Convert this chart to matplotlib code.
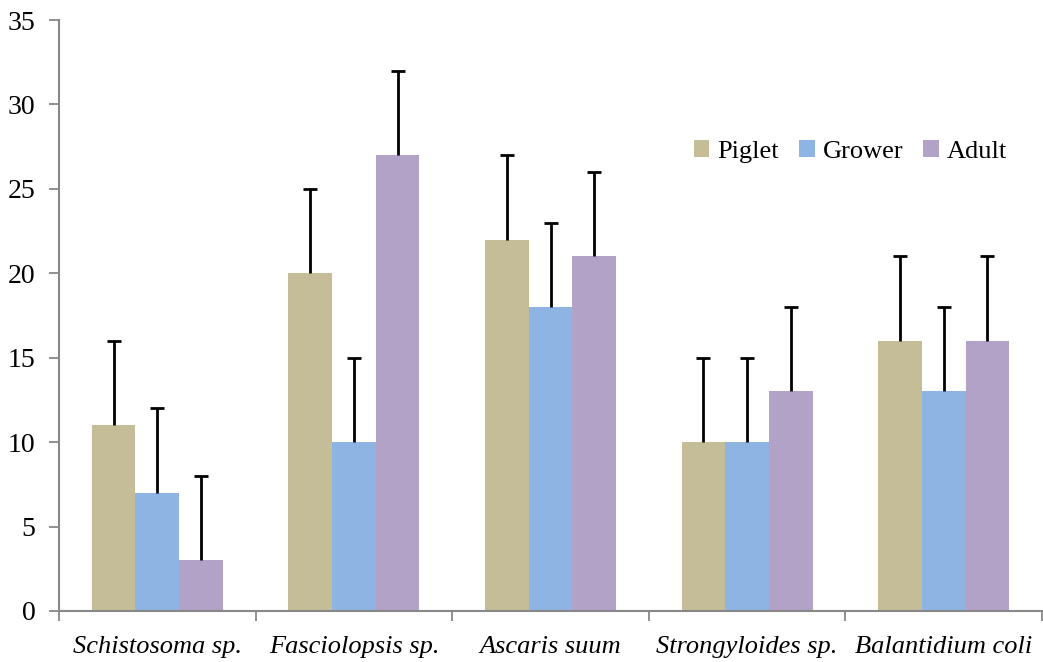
import matplotlib
matplotlib.use("Agg")
import matplotlib.pyplot as plt
import numpy as np

categories = ["Schistosoma sp.", "Fasciolopsis sp.", "Ascaris suum", "Strongyloides sp.", "Balantidium coli"]
series_names = ["Piglet", "Grower", "Adult"]
piglet = [11, 20, 22, 10, 16]
grower = [7, 10, 18, 10, 13]
adult = [3, 27, 21, 13, 16]
piglet_err = [5, 5, 5, 5, 5]
grower_err = [5, 5, 5, 5, 5]
adult_err = [5, 5, 5, 5, 5]
y_ticks = [0, 5, 10, 15, 20, 25, 30, 35]

colors = ["#C4BD97", "#8EB4E3", "#B3A2C7"]

plt.rcParams['font.family'] = ['Liberation Serif', 'DejaVu Serif']

fig = plt.figure(figsize=(10.43, 6.62), dpi=100)
ax = fig.add_axes([59/1043, 1 - 611/662, (1042 - 59)/1043, (611 - 20)/662])

x = np.arange(len(categories))
w = 1 / 4.5
data = [piglet, grower, adult]
errs = [piglet_err, grower_err, adult_err]
for i, (vals, err, c, name) in enumerate(zip(data, errs, colors, series_names)):
    pos = x + (i - 1) * w
    ax.bar(pos, vals, width=w, color=c, label=name, zorder=2)
    eb = ax.errorbar(pos, vals, yerr=[np.zeros(len(err)), err], fmt='none',
                     ecolor='black', elinewidth=2, capsize=4.7, capthick=2, zorder=3)
    # keep only the upper cap
    eb[1][0].remove()

ax.set_xlim(-0.5, len(categories) - 0.5)
ax.set_ylim(0, 35)
ax.set_yticks(y_ticks)
ax.set_xticks(x)
ax.set_xticklabels(categories, fontsize=19, style='italic')
ax.set_xticks(np.arange(len(categories) + 1) - 0.5, minor=True)
ax.tick_params(axis='x', which='major', length=0, pad=18)
ax.tick_params(axis='x', which='minor', length=7, width=1.3, color='#888888', direction='out')
ax.tick_params(axis='y', length=7, width=1.3, color='#888888', direction='out', labelsize=20, pad=10)

for s in ['top', 'right']:
    ax.spines[s].set_visible(False)
for s in ['left', 'bottom']:
    ax.spines[s].set_color('#888888')
    ax.spines[s].set_linewidth(1.5)

leg = ax.legend(loc='center', bbox_to_anchor=(0.805, 0.777), ncol=3, frameon=False,
                fontsize=19, handlelength=0.6, handleheight=0.6, handletextpad=0.3,
                columnspacing=0.75)

fig.savefig("out.png", dpi=100)
